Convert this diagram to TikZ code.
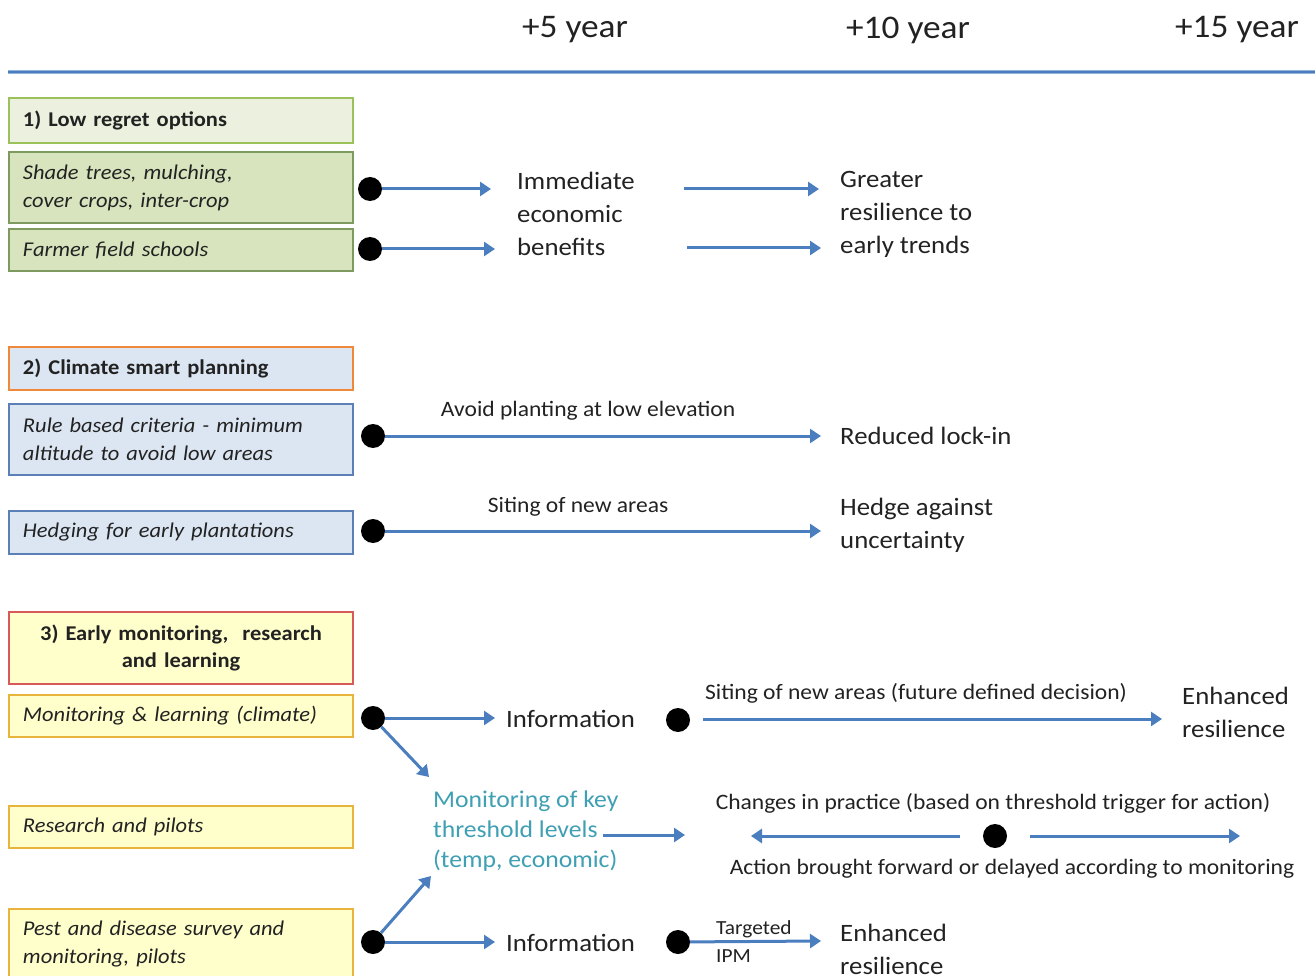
\documentclass[tikz,border=0pt]{standalone}
\usepackage{fontspec}
\setmainfont{Carlito}[FakeStretch=1.07]
\usetikzlibrary{arrows.meta}
\definecolor{arrowblue}{RGB}{74,126,191}
\definecolor{gfillA}{HTML}{EBF1DE}
\definecolor{gdrawA}{HTML}{9BC25A}
\definecolor{gfillB}{HTML}{D7E4BD}
\definecolor{gdrawB}{HTML}{7F9A5E}
\definecolor{bfill}{HTML}{DCE6F2}
\definecolor{odraw}{HTML}{F0883A}
\definecolor{bdraw}{HTML}{5B80B8}
\definecolor{yfill}{HTML}{FFFFCC}
\definecolor{rdraw}{HTML}{D9595B}
\definecolor{ydraw}{HTML}{E8B43C}
\definecolor{tealtxt}{HTML}{3F9FB3}
\definecolor{txt}{HTML}{222222}
\tikzset{
  box/.style={draw, line width=2pt, rectangle, minimum width=344pt, text width=316pt,
    inner xsep=14pt, align=left, anchor=west, text=txt},
  hdr/.style={box, font=\fontsize{21}{27}\selectfont\bfseries},
  item/.style={box, font=\fontsize{21}{28}\selectfont\itshape},
  dot/.style={circle, fill=black, minimum size=24pt, inner sep=0pt},
  flow/.style={draw=arrowblue, line width=3pt, -{Triangle[width=14pt,length=11pt]}},
  big/.style={font=\fontsize{25}{33}\selectfont, align=left, anchor=west, text=txt, inner sep=0pt},
  lbl/.style={font=\fontsize{22}{26}\selectfont, text=txt, inner sep=0pt},
  yr/.style={font=\fontsize{33}{38}\selectfont, text=txt, inner sep=0pt},
}
\begin{document}
\begin{tikzpicture}[x=1pt,y=-1pt]
\useasboundingbox (0,0) rectangle (1315,976);
\clip (0,0) rectangle (1315,976);
% header
\node[yr] (y5) at (575,30) {+5 year};
\node[yr] (y10) at (908,30) {+10 year};
\node[yr] (y15) at (1237,30) {+15 year};
\coordinate (hl) at (8,72);
\coordinate (hr) at (1315,72);
\draw[arrowblue!60, line width=3.8pt] (hl) -- (hr);
\draw[arrowblue, line width=2pt] (hl) -- (hr);

% section 1
\node[hdr, fill=gfillA, draw=gdrawA, minimum height=45pt] (h1) at (8,120.5) {1) Low regret options};
\node[item, fill=gfillB, draw=gdrawB, minimum height=71pt] (shade) at (8,187.5) {Shade trees, mulching,\\cover crops, inter-crop};
\node[item, fill=gfillB, draw=gdrawB, minimum height=42pt] (ffs) at (8,250) {Farmer field schools};
\node[dot] (d1) at (370,189) {};
\node[dot] (d2) at (370,249) {};
\coordinate (a1) at (491,189);
\coordinate (a2) at (495,249);
\draw[flow] (d1) -- (a1);
\draw[flow] (d2) -- (a2);
\node[big] (imm) at (517,214) {Immediate\\economic\\benefits};
\coordinate (b1s) at (684,189); \coordinate (b1e) at (819,189);
\coordinate (b2s) at (687,248); \coordinate (b2e) at (821,248);
\draw[flow] (b1s) -- (b1e);
\draw[flow] (b2s) -- (b2e);
\node[big] (grt) at (840,214) {Greater\\resilience to\\early trends};

% section 2
\node[hdr, fill=bfill, draw=odraw, minimum height=43pt] (h2) at (8,368.5) {2) Climate smart planning};
\node[item, fill=bfill, draw=bdraw, minimum height=71pt] (rule) at (8,439.5) {Rule based criteria - minimum\\altitude to avoid low areas};
\node[item, fill=bfill, draw=bdraw, minimum height=43pt] (hedg) at (8,532.5) {Hedging for early plantations};
\node[dot] (d3) at (373,436) {};
\node[dot] (d4) at (373,531) {};
\node[big] (red) at (840,436) {Reduced lock-in};
\node[big] (hdg) at (840,525.5) {Hedge against\\uncertainty};
\coordinate (c1) at (821,436);
\coordinate (c2) at (821,531);
\draw[flow] (d3) -- node[lbl, above=14pt, xshift=-15pt] {Avoid planting at low elevation} (c1);
\draw[flow] (d4) -- node[lbl, above=13pt, xshift=-25pt] {Siting of new areas} (c2);

% section 3
\node[hdr, fill=yfill, draw=rdraw, minimum height=72pt, align=center] (h3) at (8,648) {3) Early monitoring, \ research\\and learning};
\node[item, fill=yfill, draw=ydraw, minimum height=42pt] (mon) at (8,716) {Monitoring \& learning (climate)};
\node[item, fill=yfill, draw=ydraw, minimum height=42pt] (res) at (8,827) {Research and pilots};
\node[item, fill=yfill, draw=ydraw, anchor=north west, inner ysep=12pt] (pest) at (8,908) {Pest and disease survey and\\monitoring, pilots};
\node[dot] (d5) at (373,718) {};
\node[dot] (d6) at (373,942) {};
\node[big] (inf1) at (506,719) {Information};
\node[big] (inf2) at (506,943) {Information};
\coordinate (e1) at (495,718);
\coordinate (e2) at (495,942);
\draw[flow] (d5) -- (e1);
\draw[flow] (d6) -- (e2);
\node[font=\fontsize{24}{30}\selectfont, text=tealtxt, align=left, anchor=west, inner sep=0pt] (mk) at (433,831) {Monitoring of key\\threshold levels\\(temp, economic)};
\coordinate (f1) at (429,777);
\coordinate (f2) at (431,876);
\draw[flow] (d5) -- (f1);
\draw[flow] (d6) -- (f2);
\coordinate (g1) at (603,835); \coordinate (g2) at (685,835);
\draw[flow] (g1) -- (g2);

\node[dot] (d7) at (678,720) {};
\coordinate (h1e) at (1162,719);
\coordinate (h1s) at (703,719);
\draw[flow] (h1s) -- (h1e);
\node[lbl] (sit) at (916,693) {Siting of new areas (future defined decision)};
\node[big] (enh1) at (1182,712.5) {Enhanced\\resilience};

\node[lbl] (chg) at (993,803) {Changes in practice (based on threshold trigger for action)};
\node[dot] (d8) at (995,836) {};
\coordinate (k1s) at (960,836); \coordinate (k1e) at (751,836);
\coordinate (k2s) at (1030,836); \coordinate (k2e) at (1240,836);
\draw[flow] (k1s) -- (k1e);
\draw[flow] (k2s) -- (k2e);
\node[lbl] (act) at (1012,869) {Action brought forward or delayed according to monitoring};

\node[dot] (d9) at (678,942) {};
\coordinate (m1) at (821,941);
\draw[flow] (d9) -- (m1);
\node[lbl, anchor=west, align=left, font=\fontsize{20}{28}\selectfont] (ipm) at (716,942) {Targeted\\IPM};
\node[big] (enh2) at (840,949) {Enhanced\\resilience};
\end{tikzpicture}
\end{document}
